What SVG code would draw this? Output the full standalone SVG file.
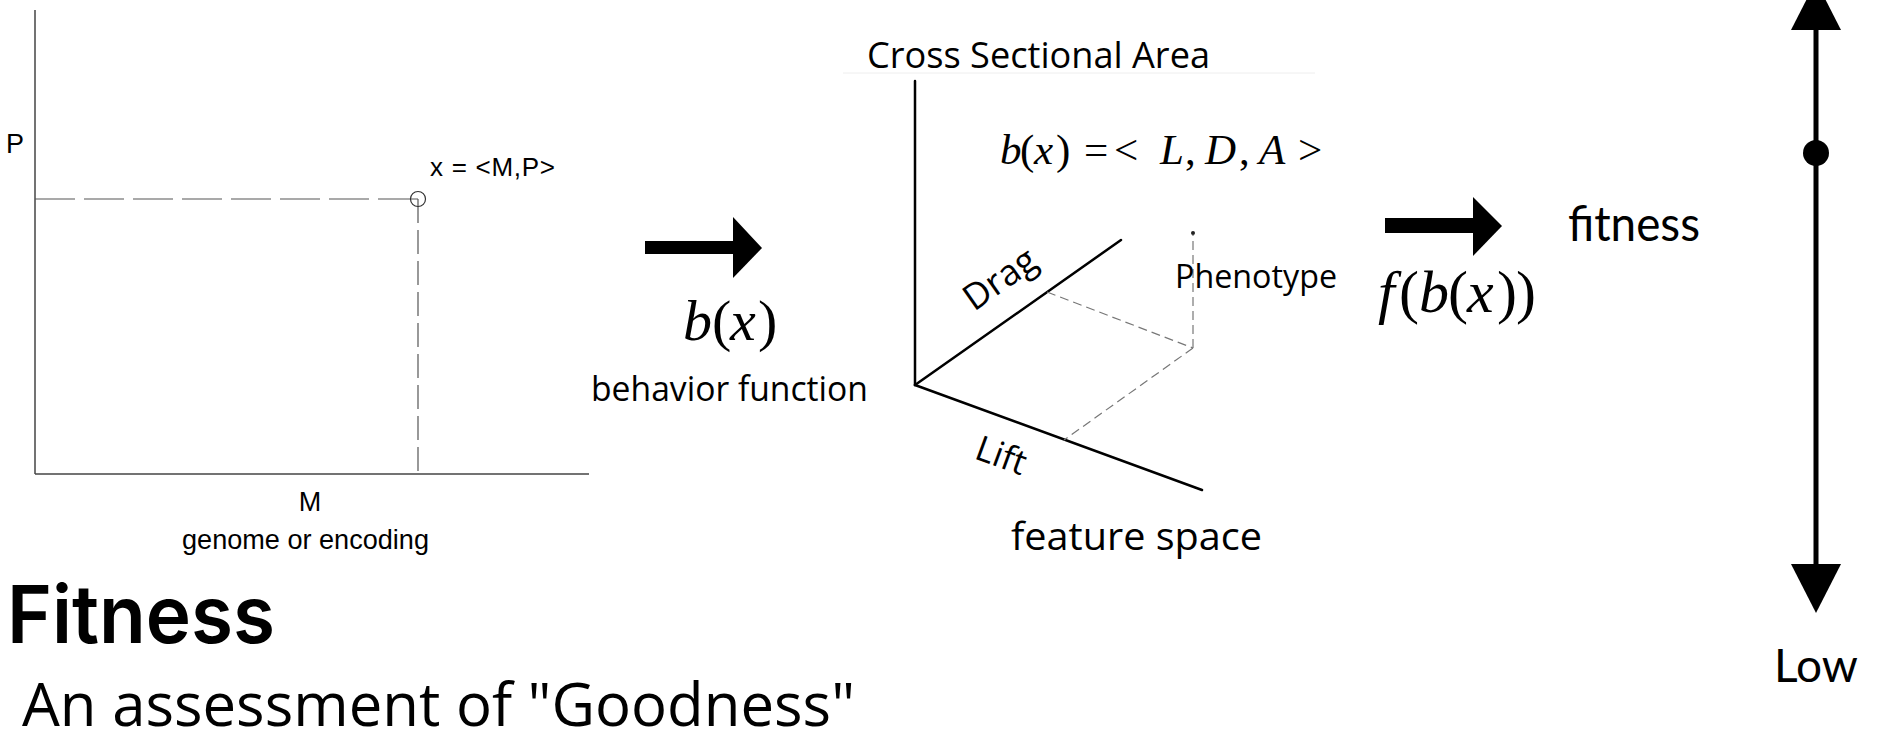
<svg xmlns="http://www.w3.org/2000/svg" width="1880" height="737" viewBox="0 0 1880 737">
  <style>
    .arial { font-family: "Liberation Sans", Arial, sans-serif; fill: #000; }
    .os { font-family: "Open Sans", "Noto Sans", sans-serif; fill: #000; }
    .lato { font-family: Lato, "Open Sans", sans-serif; fill: #000; }
    .math { font-family: "Liberation Serif", "DejaVu Serif", serif; fill: #000; }
    .it { font-style: italic; }
    .axis { stroke: #444; stroke-width: 1.5; fill: none; }
    .dash2d { stroke: #555; stroke-width: 1.2; fill: none; }
    .axis3d { stroke: #000; stroke-width: 2.5; fill: none; stroke-linecap: round; }
    .dash3d { stroke: #777; stroke-width: 1.2; fill: none; stroke-dasharray: 9 5; }
    .bigarrow { fill: #000; }
  </style>
  <rect width="1880" height="737" fill="#fff"/>

  <g id="genome-chart">
    <line class="axis" x1="35" y1="10" x2="35" y2="474"/>
    <line class="axis" x1="35" y1="474" x2="589" y2="474"/>
    <line class="dash2d" x1="35" y1="199" x2="418" y2="199" stroke-dasharray="40 9"/>
    <line class="dash2d" x1="418" y1="199" x2="418" y2="474" stroke-dasharray="24 7"/>
    <circle cx="418" cy="199" r="7.5" fill="none" stroke="#333" stroke-width="1.2"/>
    <text class="arial" x="6" y="153" font-size="27">P</text>
    <text class="arial" x="430" y="176" font-size="26" textLength="125" lengthAdjust="spacing">x = &lt;M,P&gt;</text>
    <text class="arial" x="310" y="511" font-size="27" text-anchor="middle">M</text>
    <text class="arial" x="182" y="549" font-size="27" textLength="247" lengthAdjust="spacingAndGlyphs">genome or encoding</text>
  </g>

  <g id="connectors">
    <g id="arrow-behavior">
      <rect class="bigarrow" x="645" y="241" width="89" height="13"/>
      <polygon class="bigarrow" points="733,217 762,248 733,278"/>
    </g>
    <g id="arrow-fitness">
      <rect class="bigarrow" x="1385" y="218" width="89" height="15"/>
      <polygon class="bigarrow" points="1473,197 1502,226 1473,256"/>
    </g>
  </g>

  <g id="behavior-label">
    <text class="math" y="340" font-size="58"><tspan class="it" x="683">b</tspan><tspan x="712">(</tspan><tspan class="it" x="730">x</tspan><tspan x="758">)</tspan></text>
    <text class="os" x="591" y="401" font-size="34" textLength="277" lengthAdjust="spacingAndGlyphs">behavior function</text>
  </g>

  <g id="feature-space">
    <text class="os" x="867" y="68" font-size="36" textLength="343" lengthAdjust="spacingAndGlyphs">Cross Sectional Area</text>
    <line x1="843" y1="73" x2="1315" y2="73" stroke="#eee" stroke-width="1"/>
    <text class="math" y="164" font-size="43"><tspan class="it" x="1000">b</tspan><tspan x="1020">(</tspan><tspan class="it" x="1034">x</tspan><tspan x="1056">)</tspan><tspan x="1084">=</tspan><tspan x="1114">&lt;</tspan><tspan class="it" x="1160">L</tspan><tspan x="1185">,</tspan><tspan class="it" x="1205">D</tspan><tspan x="1239">,</tspan><tspan class="it" x="1259">A</tspan><tspan x="1298">&gt;</tspan></text>
    <line class="axis3d" x1="915" y1="81" x2="915" y2="385"/>
    <line class="axis3d" x1="915" y1="385" x2="1121" y2="240"/>
    <line class="axis3d" x1="915" y1="385" x2="1202" y2="490"/>
    <line class="dash3d" x1="1047" y1="292" x2="1193" y2="348"/>
    <line class="dash3d" x1="1193" y1="348" x2="1064" y2="440"/>
    <line class="dash3d" x1="1193" y1="348" x2="1193" y2="235"/>
    <circle cx="1193" cy="233" r="2" fill="#222"/>
    <text class="os" font-size="36" transform="translate(974,312) rotate(-35.1)">Drag</text>
    <text class="os" font-size="35" transform="translate(973,458) rotate(20.1)">Lift</text>
    <text class="os" x="1175" y="288" font-size="32.5" textLength="162" lengthAdjust="spacingAndGlyphs">Phenotype</text>
    <text class="os" x="1011" y="550" font-size="39" textLength="251" lengthAdjust="spacingAndGlyphs">feature space</text>
  </g>

  <g id="fitness-function-label">
    <text class="math" y="312" font-size="60"><tspan class="it" x="1378">f</tspan><tspan x="1399">(</tspan><tspan class="it" x="1419">b</tspan><tspan x="1448">(</tspan><tspan class="it" x="1467">x</tspan><tspan x="1497">)</tspan><tspan x="1516">)</tspan></text>
  </g>

  <g id="fitness-label">
    <text class="lato" x="1568" y="241" font-size="48" textLength="132" lengthAdjust="spacingAndGlyphs">fitness</text>
  </g>

  <g id="fitness-scale">
    <line x1="1816" y1="28" x2="1816" y2="566" stroke="#000" stroke-width="5"/>
    <polygon points="1791,30 1841,30 1816,-19" fill="#000"/>
    <polygon points="1791,564 1841,564 1816,613" fill="#000"/>
    <circle cx="1816" cy="153" r="13" fill="#000"/>
    <text class="lato" x="1816" y="682" font-size="46" text-anchor="middle">Low</text>
  </g>

  <g id="title">
    <text x="7" y="643" font-family="Inter, 'Open Sans', sans-serif" font-weight="600" font-size="80" textLength="268" lengthAdjust="spacingAndGlyphs" fill="#000">Fitness</text>
    <text class="os" x="22" y="726" font-size="61" textLength="833" lengthAdjust="spacingAndGlyphs">An assessment of "Goodness"</text>
  </g>
</svg>
